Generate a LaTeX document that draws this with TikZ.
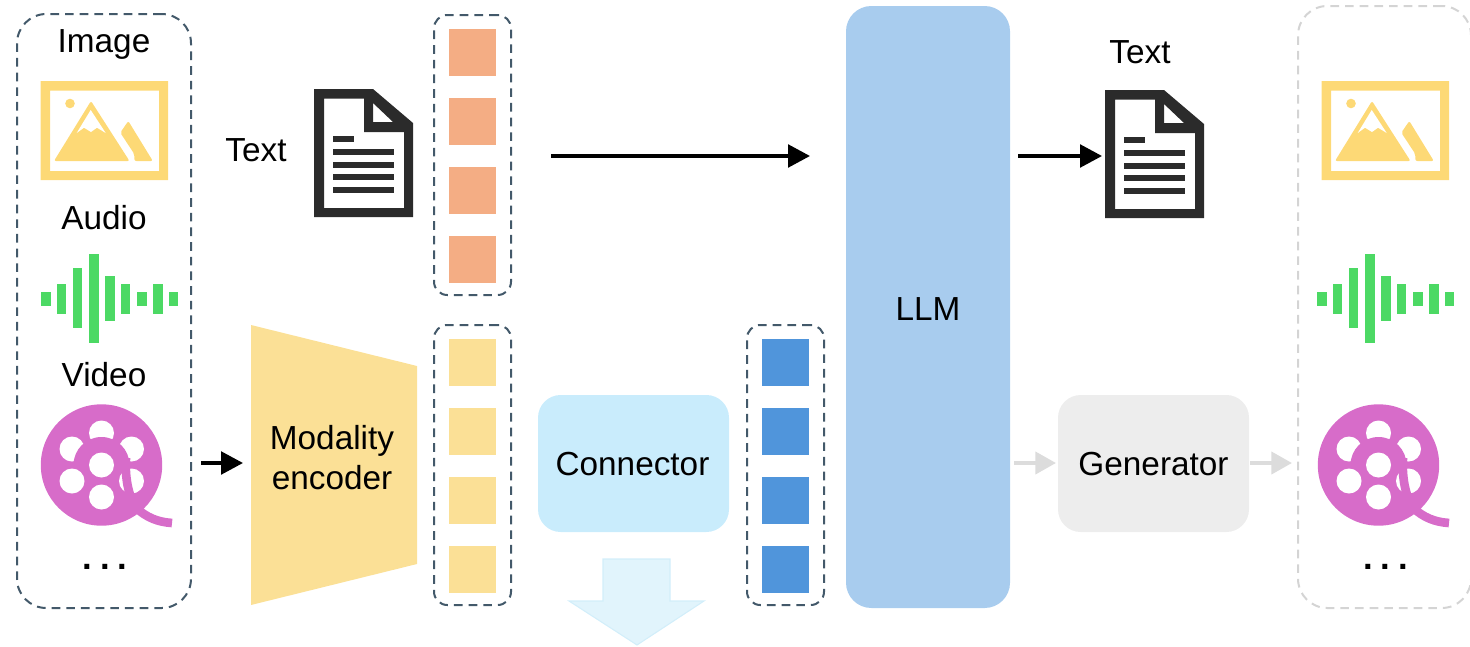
\documentclass[tikz,border=0pt]{standalone}
\usepackage{fontspec}
\setmainfont{Liberation Sans}
\usetikzlibrary{arrows.meta}
\definecolor{dashdark}{HTML}{43596A}
\definecolor{dashgray}{HTML}{D4D4D4}
\definecolor{orangetok}{HTML}{F4AD84}
\definecolor{yellowtok}{HTML}{FBE096}
\definecolor{bluetok}{HTML}{5095DB}
\definecolor{imgyellow}{HTML}{FDD976}
\definecolor{audiogreen}{HTML}{4CD964}
\definecolor{reelpink}{HTML}{D76CC9}
\definecolor{docdark}{HTML}{2B2B2B}
\definecolor{connfill}{HTML}{C9ECFC}
\definecolor{llmfill}{HTML}{A8CCEE}
\definecolor{genfill}{HTML}{EDEDED}
\definecolor{downfill}{HTML}{E1F4FC}
\definecolor{downline}{HTML}{D2EEFA}
\definecolor{grayarrow}{HTML}{DCDCDC}
\tikzset{
  x=0.75pt,y=-0.75pt,
  label text/.style={inner sep=0pt,font=\fontsize{25pt}{30pt}\selectfont,text=black,align=center},
  dots text/.style={inner sep=0pt,font=\fontsize{26pt}{30pt}\selectfont\bfseries,text=black},
  pxbox/.style 2 args={inner sep=0pt,minimum width=#1*0.75pt,minimum height=#2*0.75pt},
  dashbox/.style={draw=dashdark,line width=1.5pt,dash pattern=on 6.5pt off 4.5pt,rounded corners=#1},
  tokbox/.style={pxbox={77}{280},draw=dashdark,line width=1.5pt,dash pattern=on 6.5pt off 4.5pt,rounded corners=10pt},
  square/.style={pxbox={47}{47}},
  softbox/.style={pxbox={191}{137},rounded corners=17pt},
  blackarrow/.style={draw=black,line width=2.6pt,-{Triangle[length=16.5pt,width=17pt]}},
  grayarr/.style={draw=grayarrow,line width=3pt,-{Triangle[length=15.5pt,width=16.5pt]}},
}
\newcommand{\threedots}{.\kern5.9pt.\kern5.9pt.}
\newcommand{\imageicon}{%
  \fill[imgyellow,even odd rule] (40.5,81) rectangle (168,180) (50,90.5) rectangle (159,171);
  \fill[imgyellow] (70,103.5) circle[radius=4.8];
  \fill[imgyellow,rounded corners=1.5pt] (91,101) -- (129.5,161) -- (54,161) -- cycle;
  \fill[white] (90.7,110) -- (105.7,133) -- (97,127.7) -- (91,132) -- (84,127.7) -- (76.7,133) -- cycle;
  \fill[imgyellow,rounded corners=1.5pt] (128.3,121) -- (152.8,161) -- (134.3,161) -- (134.3,154) -- (120.3,132.7) -- cycle;
}
\newcommand{\audioicon}{%
  \fill[audiogreen] (41,292) rectangle (51,306);
  \fill[audiogreen] (57,284) rectangle (66,314);
  \fill[audiogreen] (73,268) rectangle (82,328);
  \fill[audiogreen] (89,254) rectangle (99,343);
  \fill[audiogreen] (105,276) rectangle (115,321);
  \fill[audiogreen] (121,284) rectangle (130,314);
  \fill[audiogreen] (137,292) rectangle (147,306);
  \fill[audiogreen] (153,284) rectangle (163,314);
  \fill[audiogreen] (169,292) rectangle (178,306);
}
\newcommand{\reelicon}{%
  \draw[reelpink,line width=6.5pt] (135,507) .. controls (147,518) and (158,522) .. (172,523);
  \fill[reelpink] (101.5,465) circle[radius=60.7];
  \fill[white] (101.5,433) circle[radius=12.5];
  \fill[white] (72,449) circle[radius=12.5];
  \fill[white] (131.5,449) circle[radius=12.5];
  \fill[white] (72,481) circle[radius=12.5];
  \fill[white] (131.5,481) circle[radius=12.5];
  \fill[white] (101.5,497) circle[radius=12.5];
  \begin{scope}
    \clip (60,400) rectangle (145,465);
    \fill[reelpink] (101.5,465) circle[radius=28];
  \end{scope}
  \fill[white] (101.5,465) circle[radius=12.5];
  \draw[reelpink,line width=6.5pt] (126,458) .. controls (125,474) and (127,490) .. (134,505);
}
\newcommand{\docicon}{%
  \fill[docdark,even odd rule] (314,89) -- (373,89) -- (413,123) -- (413,217) -- (314,217) -- cycle
    (324,98.5) -- (364,98.5) -- (364,132) -- (404,132) -- (404,208) -- (324,208) -- cycle
    (373,103) -- (373,122) -- (393,122) -- cycle;
  \fill[docdark] (333,135.5) rectangle (354,141.5);
  \fill[docdark] (333,149) rectangle (394,155);
  \fill[docdark] (333,161.5) rectangle (394,167.5);
  \fill[docdark] (333,174) rectangle (394,180);
  \fill[docdark] (333,187) rectangle (394,193);
}
\begin{document}
\begin{tikzpicture}
\useasboundingbox (0,0) rectangle (1470,646);

% input group
\node[pxbox={174}{594},dashbox=22pt] (inputgroup) at (104,311) {};
\node[label text] (imagelabel) at (104,44.5) {Image};
\node[label text] (audiolabel) at (104,218) {Audio};
\node[label text] (videolabel) at (104,375) {Video};
\imageicon
\audioicon
\reelicon
\node[dots text] (moredots) at (105,566.7) {\threedots};

% text input
\node[label text] (textlabel) at (256,150) {Text};
\docicon

% token groups
\node[tokbox] (texttokens) at (472.5,155) {};
\node[tokbox] (imgtokens) at (472.5,465) {};
\node[tokbox] (bluetokens) at (785.5,465) {};
\foreach \n/\y in {a/52.5,b/121.5,c/190.5,d/259.5}{
  \node[square,fill=orangetok] (or\n) at (472.5,\y) {};
}
\foreach \n/\y in {a/362.5,b/431.5,c/500.5,d/569.5}{
  \node[square,fill=yellowtok] (ye\n) at (472.5,\y) {};
  \node[square,fill=bluetok] (bl\n) at (785.5,\y) {};
}

% encoder
\fill[yellowtok] (251,325) -- (417,366) -- (417,564) -- (251,605) -- cycle;
\node[label text] (encoder) at (332,458) {Modality\\encoder};

% connector
\node[softbox,fill=connfill] (connector) at (633.5,463.5) {};
\node[label text] (connectorlabel) at (632.5,464.5) {Connector};
\fill[downfill] (603,559) -- (670,559) -- (670,601) -- (704,601) -- (637,645) -- (569,601) -- (603,601) -- cycle;
\draw[downline,line width=0.8pt] (603,601) -- (603,559) -- (670,559) -- (670,601) -- (704,601) -- (637,645) -- (569,601) -- cycle;

% LLM
\node[pxbox={164}{602},rounded corners=19pt,fill=llmfill] (llm) at (928,307) {};
\node[label text] (llmlabel) at (928,309) {LLM};

% generator
\node[softbox,fill=genfill] (generator) at (1153.5,463.5) {};
\node[label text] (generatorlabel) at (1153.5,464.5) {Generator};

% output text
\node[label text] (outtextlabel) at (1140,52) {Text};
\begin{scope}[shift={(791,1)}]\docicon\end{scope}

% output group
\node[pxbox={173}{602},draw=dashgray,line width=1.5pt,dash pattern=on 6.5pt off 4.5pt,rounded corners=22pt] (outputgroup) at (1384.5,307) {};
\begin{scope}[shift={(1281,0)}]\imageicon\end{scope}
\begin{scope}[shift={(1276,0)}]\audioicon\end{scope}
\begin{scope}[shift={(1277,0)}]\reelicon\end{scope}
\node[dots text] (outdots) at (1385.5,566.7) {\threedots};

% connectors
\coordinate (a1s) at (551,156);
\coordinate (a1e) at (810,156);
\coordinate (a2s) at (1018,156);
\coordinate (a2e) at (1102,156);
\coordinate (a3s) at (201,463);
\coordinate (a3e) at (243,463);
\coordinate (a4s) at (1014,463);
\coordinate (a4e) at (1056,463);
\coordinate (a5s) at (1250,463);
\coordinate (a5e) at (1292,463);
\draw[blackarrow] (a1s) -- (a1e);
\draw[blackarrow] (a2s) -- (a2e);
\draw[blackarrow] (a3s) -- (a3e);
\draw[grayarr] (a4s) -- (a4e);
\draw[grayarr] (a5s) -- (a5e);
\end{tikzpicture}
\end{document}
